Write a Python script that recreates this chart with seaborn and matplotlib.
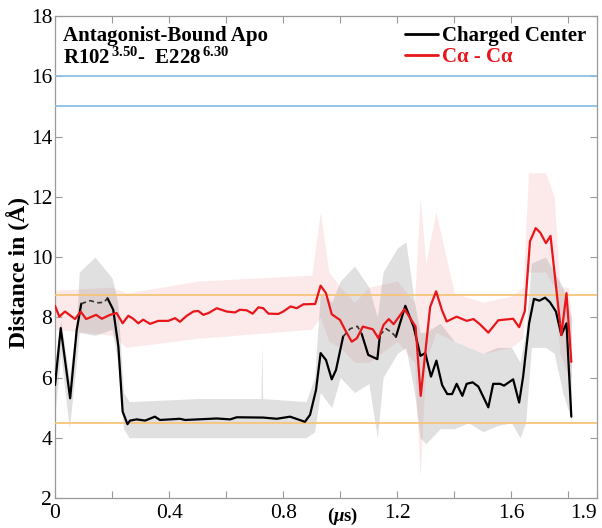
import numpy as np
import pandas as pd
import matplotlib
matplotlib.use("Agg")
import matplotlib.pyplot as plt
import seaborn as sns
from matplotlib.lines import Line2D
from matplotlib.ticker import FixedLocator

# ---------------- data ----------------
# Charged Center (black) smoothed trace, split into solid / dashed segments
cc_x_a = [0.0, 0.02, 0.053, 0.076, 0.092]
cc_y_a = [5.75, 7.64, 5.31, 7.58, 8.45]
cc_x_b = [0.092, 0.123, 0.152, 0.172, 0.184]          # dashed
cc_y_b = [8.45, 8.55, 8.48, 8.50, 8.63]
cc_x_c = [0.184, 0.204, 0.222, 0.237, 0.254, 0.263, 0.286, 0.316, 0.35, 0.368,
          0.438, 0.456, 0.567, 0.614, 0.637, 0.73, 0.777, 0.824, 0.876, 0.894,
          0.915, 0.931, 0.95, 0.97, 0.985, 1.01]
cc_y_c = [8.63, 8.25, 7.04, 4.87, 4.45, 4.57, 4.61, 4.57, 4.70, 4.59,
          4.63, 4.59, 4.64, 4.61, 4.68, 4.67, 4.63, 4.70, 4.53, 4.76,
          5.59, 6.81, 6.58, 5.94, 6.25, 7.36]
cc_x_d = [1.01, 1.035, 1.06, 1.075]                    # dashed
cc_y_d = [7.36, 7.62, 7.70, 7.45]
cc_x_e = [1.075, 1.098, 1.13, 1.139]
cc_y_e = [7.45, 6.75, 6.61, 7.41]
cc_x_f = [1.139, 1.16, 1.18, 1.195]                    # dashed
cc_y_f = [7.41, 7.62, 7.50, 7.35]
cc_x_g = [1.195, 1.228, 1.257, 1.281, 1.298, 1.318, 1.337, 1.357, 1.375, 1.392,
          1.408, 1.428, 1.443, 1.464, 1.484, 1.519, 1.536, 1.56, 1.574, 1.606,
          1.627, 1.641, 1.662, 1.679, 1.698, 1.718, 1.735, 1.756, 1.775, 1.793,
          1.81]
cc_y_g = [7.35, 8.38, 7.69, 6.72, 6.81, 6.03, 6.56, 5.75, 5.45, 5.45,
          5.79, 5.39, 5.79, 5.84, 5.70, 5.01, 5.79, 5.79, 5.73, 5.94,
          5.17, 6.03, 7.80, 8.61, 8.55, 8.65, 8.50, 8.19, 7.41, 7.80,
          4.70]

# C-alpha - C-alpha (red) smoothed trace
ca_x = [0.0, 0.015, 0.035, 0.07, 0.09, 0.109, 0.144, 0.164, 0.193, 0.216,
        0.237, 0.257, 0.274, 0.292, 0.309, 0.333, 0.362, 0.397, 0.421, 0.438,
        0.462, 0.485, 0.502, 0.52, 0.538, 0.567, 0.602, 0.631, 0.648, 0.672,
        0.693, 0.713, 0.73, 0.748, 0.783, 0.80, 0.826, 0.847, 0.871, 0.912,
        0.931, 0.95, 0.97, 0.999, 1.017, 1.04, 1.058, 1.079, 1.114, 1.134,
        1.152, 1.17, 1.187, 1.225, 1.264, 1.282, 1.315, 1.336, 1.356, 1.373,
        1.408, 1.443, 1.467, 1.488, 1.519, 1.554, 1.606, 1.627, 1.647, 1.665,
        1.685, 1.701, 1.721, 1.737, 1.775, 1.793, 1.81]
ca_y = [8.38, 8.02, 8.19, 7.94, 8.19, 7.94, 8.08, 7.95, 8.08, 8.14,
        7.80, 8.05, 7.95, 7.80, 7.92, 7.78, 7.88, 7.88, 7.97, 7.85,
        8.05, 8.19, 8.21, 8.08, 8.14, 8.30, 8.19, 8.16, 8.25, 8.23,
        8.12, 8.33, 8.30, 8.12, 8.11, 8.19, 8.36, 8.30, 8.43, 8.44,
        9.05, 8.80, 8.10, 7.91, 7.58, 7.19, 7.30, 7.69, 7.60, 7.30,
        7.75, 7.94, 7.77, 8.27, 7.69, 5.39, 8.34, 8.86, 8.25, 7.86,
        8.02, 7.88, 7.94, 7.78, 7.49, 7.90, 7.95, 7.67, 8.21, 10.52,
        10.96, 10.81, 10.46, 10.70, 7.41, 8.80, 6.52]

# raw (unsmoothed) trace envelopes
raw_cc_x = [0.0, 0.02, 0.05, 0.075, 0.085, 0.14, 0.20, 0.22, 0.24, 0.26,
            0.50, 0.722, 0.725, 0.728, 0.88, 0.91, 0.93, 0.97, 1.0, 1.05,
            1.10, 1.13, 1.15, 1.20, 1.23, 1.26, 1.28, 1.30, 1.35, 1.40,
            1.45, 1.50, 1.55, 1.60, 1.63, 1.65, 1.67, 1.72, 1.75, 1.78, 1.81]
raw_cc_lo = [4.8, 6.8, 4.3, 6.5, 7.5, 7.4, 7.6, 6.5, 4.3, 4.0,
             4.0, 4.0, 4.0, 4.0, 4.0, 4.2, 5.5, 5.0, 6.0, 5.5,
             5.8, 4.0, 6.0, 6.8, 7.0, 5.5, 4.0, 3.8, 4.3, 4.3,
             4.5, 4.2, 4.4, 4.5, 4.0, 4.5, 7.0, 7.0, 6.8, 5.5, 4.6]
raw_cc_hi = [6.5, 7.9, 6.0, 7.8, 9.5, 10.0, 9.3, 8.5, 5.5, 5.2,
             5.3, 5.3, 7.1, 5.3, 5.2, 6.0, 8.8, 8.5, 9.2, 9.7,
             9.0, 8.0, 9.5, 10.3, 10.5, 8.5, 7.5, 7.5, 7.8, 7.2,
             7.0, 6.8, 7.0, 7.0, 6.5, 7.5, 9.8, 10.0, 9.5, 9.0, 8.0]

raw_ca_x = [0.0, 0.20, 0.25, 0.50, 0.90, 0.93, 0.96, 1.0, 1.05, 1.10,
            1.20, 1.26, 1.28, 1.30, 1.335, 1.40, 1.50, 1.60, 1.64, 1.66,
            1.72, 1.75, 1.77, 1.80, 1.81]
raw_ca_lo = [7.6, 7.4, 7.0, 7.3, 7.6, 8.0, 7.2, 7.0, 6.5, 6.5,
             7.2, 6.5, 2.7, 6.5, 7.5, 7.2, 6.8, 7.0, 7.3, 9.5,
             9.5, 9.0, 6.8, 6.0, 6.0]
raw_ca_hi = [8.9, 9.0, 8.8, 9.2, 9.4, 11.5, 9.5, 9.0, 8.5, 9.0,
             9.2, 8.5, 12.0, 9.8, 11.5, 8.8, 8.5, 8.7, 9.0, 12.8,
             12.8, 12.0, 9.0, 9.0, 8.0]

ref_blue = [15.0, 16.0]
ref_orange = [4.5, 8.75]

x_ticks = [0, 0.4, 0.8, 1.2, 1.6, 1.9]
x_ticklabels = ["0", "0.4", "0.8", "1.2", "1.6", "1.9"]
x_minor = [0.2, 0.6, 1.0, 1.4, 1.8]
y_ticks = [2, 4, 6, 8, 10, 12, 14, 16, 18]

# ---------------- build tables ----------------
segs = [(cc_x_a, cc_y_a, "solid"), (cc_x_b, cc_y_b, "dash"),
        (cc_x_c, cc_y_c, "solid"), (cc_x_d, cc_y_d, "dash"),
        (cc_x_e, cc_y_e, "solid"), (cc_x_f, cc_y_f, "dash"),
        (cc_x_g, cc_y_g, "solid")]
rows = []
for i, (xs, ys, st) in enumerate(segs):
    for x, y in zip(xs, ys):
        rows.append({"t": x, "d": y, "seg": i, "style": st})
cc_df = pd.DataFrame(rows)
ca_df = pd.DataFrame({"t": ca_x, "d": ca_y})

# ---------------- plot ----------------
sns.set_theme(style="white")
plt.rcParams["font.family"] = ["Liberation Serif", "DejaVu Serif"]
plt.rcParams["text.color"] = "black"
plt.rcParams["axes.labelcolor"] = "black"
plt.rcParams["xtick.color"] = "black"
plt.rcParams["ytick.color"] = "black"
plt.rcParams["mathtext.fontset"] = "custom"
plt.rcParams["mathtext.rm"] = "Liberation Serif:bold"
plt.rcParams["mathtext.it"] = "Liberation Serif:bold:italic"
plt.rcParams["mathtext.bf"] = "Liberation Serif:bold"

RED = "#e8161b"

fig = plt.figure(figsize=(6.02, 5.28), dpi=100)
ax = fig.add_axes([0.0914, 0.0568, 0.9003, 0.9129])

# raw traces as faint envelopes
ax.fill_between(raw_ca_x, raw_ca_lo, raw_ca_hi, color="#f9c4c4", alpha=0.35,
                linewidth=0, zorder=1)
ax.fill_between(raw_cc_x, raw_cc_lo, raw_cc_hi, color="#909090", alpha=0.28,
                linewidth=0, zorder=2)

for y in ref_blue:
    ax.axhline(y, color="#8cbfe6", lw=1.3, zorder=3)
for y in ref_orange:
    ax.axhline(y, color="#f5c67a", lw=1.3, zorder=3)

sns.lineplot(data=cc_df[cc_df["style"] == "solid"], x="t", y="d", units="seg",
             estimator=None, color="black", lw=1.6, ax=ax, zorder=5,
             sort=False)
sns.lineplot(data=cc_df[cc_df["style"] == "dash"], x="t", y="d", units="seg",
             estimator=None, color="#333333", lw=1.2, ax=ax, zorder=5,
             sort=False, linestyle=(0, (3, 2)))
sns.lineplot(data=ca_df, x="t", y="d", color=RED, lw=1.6, ax=ax,
             zorder=6, sort=False)

ax.set_xlim(0, 1.9)
ax.set_ylim(2, 18)
ax.xaxis.set_major_locator(FixedLocator(x_ticks))
ax.set_xticklabels(x_ticklabels)
ax.xaxis.set_minor_locator(FixedLocator(x_minor))
ax.yaxis.set_major_locator(FixedLocator(y_ticks))
ax.tick_params(axis="both", which="both", direction="in", top=True,
               right=True, bottom=True, left=True, color="#999999",
               labelsize=15.5, length=5, width=0.8)
ax.tick_params(axis="x", pad=4)
ax.tick_params(axis="y", pad=2)
ax.get_xticklabels()[-1].set_horizontalalignment("right")
for s in ax.spines.values():
    s.set_color("#9a9a9a")
    s.set_linewidth(0.9)

ax.set_xlabel(r"($\mathit{\mu}$s)", fontsize=13.5, fontweight="bold")
ax.xaxis.set_label_coords(0.53, -0.017)
ax.set_ylabel("Distance in (Å)", fontsize=17, fontweight="bold")
ax.yaxis.set_label_coords(-0.046, 0.467)

ax.text(0.015, 0.98, "Antagonist-Bound Apo", transform=ax.transAxes,
        fontsize=15, fontweight="bold", va="top", ha="left")
ax.text(0.015, 0.934, r"R102$^{\,3.50}$-  E228$^{\,6.30}$",
        transform=ax.transAxes, fontsize=15, fontweight="bold",
        va="top", ha="left")

handles = [Line2D([0], [0], color="black", lw=2),
           Line2D([0], [0], color=RED, lw=2)]
leg = ax.legend(handles, ["Charged Center", "Cα - Cα"], loc="upper right",
                bbox_to_anchor=(1.0, 1.0), frameon=False,
                prop={"weight": "bold", "size": 15}, handlelength=1.6,
                handletextpad=0.2, labelspacing=0.05, borderaxespad=0.1,
                labelcolor=["black", RED])

fig.savefig("out.png", dpi=100)
